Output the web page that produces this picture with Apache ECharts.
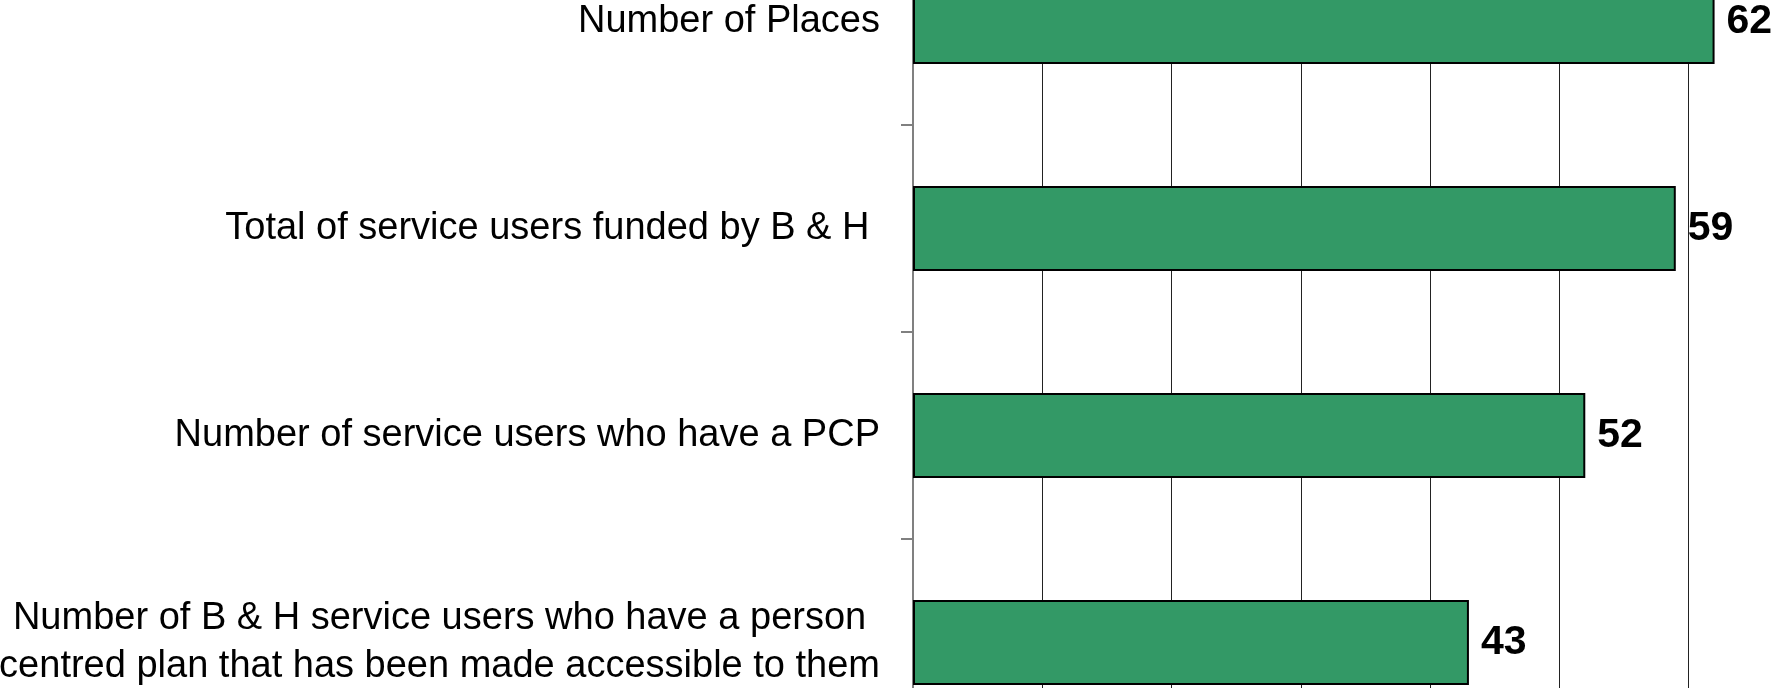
<!DOCTYPE html>
<html>
<head>
<meta charset="utf-8">
<script src="https://cdn.jsdelivr.net/npm/echarts@6/dist/echarts.min.js"></script>
<style>
html,body{margin:0;padding:0;background:#fff;overflow:hidden;width:1778px;height:688px;}
#wrap{position:absolute;left:0;top:0;width:1778px;height:688px;overflow:hidden;}
#chart{position:absolute;left:0;top:-100px;width:1900px;height:900px;}
</style>
</head>
<body>
<div id="wrap"><div id="chart"></div></div>
<script>
// Categories listed top to bottom
const categories = [
  'Number of Places',
  'Total of service users funded by B & H ',
  'Number of service users who have a PCP',
  'Number of B & H service users who have a person\ncentred plan that has been made accessible to them'
];
const values = [62, 59, 52, 43];
const xMin = 0;
const xMax = 70;
const xInterval = 10;

const chart = echarts.init(document.getElementById('chart'), null, {renderer: 'canvas'});
const font = '"Liberation Sans", Arial, sans-serif';
chart.setOption({
  backgroundColor: '#fff',
  animation: false,
  grid: {left: 913, top: 18, width: 905, height: 828, containLabel: false, outerBoundsMode: 'none'},
  xAxis: {
    type: 'value', min: xMin, max: xMax, interval: xInterval,
    axisLine: {show: false},
    axisTick: {show: false},
    axisLabel: {show: false},
    splitLine: {show: true, lineStyle: {color: '#222', width: 1}}
  },
  yAxis: {
    type: 'category', data: categories, inverse: true,
    axisLine: {show: true, lineStyle: {color: '#808080', width: 2}},
    axisTick: {show: true, length: 12, lineStyle: {color: '#808080', width: 2}},
    axisLabel: {
      margin: 33, color: '#000',
      formatter: v => v.split('\n').map(s => '{a|' + s + '}').join('\n'),
      rich: {a: {fontSize: 38, lineHeight: 48, fontFamily: font, color: '#000', align: 'center'}}
    },
    splitLine: {show: false}
  },
  series: [{
    type: 'bar', data: values, barWidth: 85,
    itemStyle: {color: '#339966', borderColor: '#000', borderWidth: 2},
    label: {show: true, position: 'right', distance: 12, color: '#000',
            fontSize: 41, fontWeight: 'bold', fontFamily: font}
  }]
});
</script>
</body>
</html>
